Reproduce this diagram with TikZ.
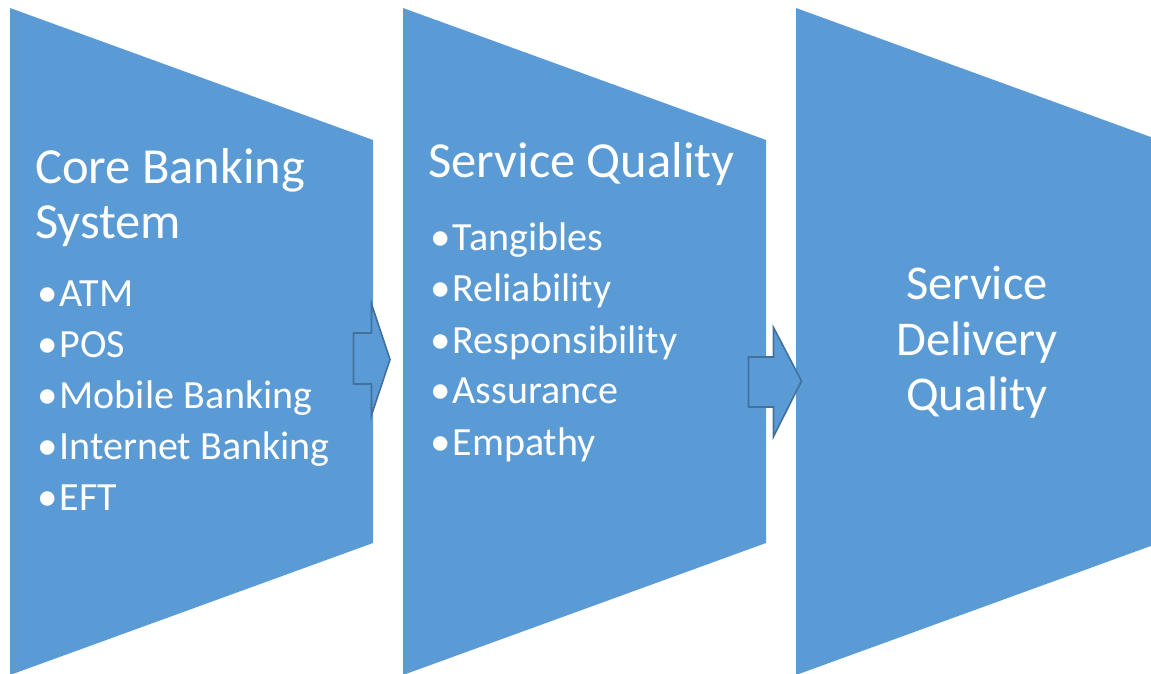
\documentclass[tikz,border=0pt]{standalone}
\usepackage{fontspec}
\setmainfont{Carlito}
\definecolor{stageblue}{HTML}{5B9BD5}
\definecolor{arrowedge}{HTML}{41719C}
\newcommand{\bulletmark}{\makebox[23.5pt][l]{\hspace{1pt}\fontsize{41}{41}\selectfont\raisebox{-0.5pt}{•}}}
\begin{document}
\begin{tikzpicture}[x=1pt,y=-1pt,
  stage/.style={fill=stageblue,draw=none},
  blockarrow/.style={fill=stageblue,draw=arrowedge,line width=1.6pt,line join=miter},
  heading/.style={text=white,inner sep=0pt,font=\fontsize{50.5}{55}\selectfont},
  item/.style={text=white,inner sep=0pt,anchor=base west,font=\fontsize{40}{51}\selectfont},
]
\useasboundingbox (0,0) rectangle (1151,674);
\begin{scope}
\clip (0,0) rectangle (1151,674);
% three funnel stages
\fill[stage] (10,8) -- (373,140) -- (373,543) -- (10,675) -- cycle;
\fill[stage] (403,8) -- (766,140) -- (766,543) -- (403,675) -- cycle;
\fill[stage] (796,8) -- (1159,140) -- (1159,543) -- (796,675) -- cycle;
% block arrows between stages
\draw[blockarrow] (353.5,333) -- (371.5,333) -- (371.5,304) -- (390,359.5)
  -- (371.5,415) -- (371.5,384) -- (353.5,384) -- cycle;
\draw[blockarrow] (748.5,357) -- (773.5,357) -- (773.5,327.5) -- (801.5,381)
  -- (773.5,436.5) -- (773.5,407) -- (748.5,407) -- cycle;
\end{scope}

% stage 1
\node[heading,anchor=base west] (h1a) at (35,183) {Core Banking};
\node[heading,anchor=base west] (h1b) at (35,238) {System};
\node[item] (c1) at (36,306) {\bulletmark ATM};
\node[item] (c2) at (36,357) {\bulletmark POS};
\node[item] (c3) at (36,408) {\bulletmark Mobile Banking};
\node[item] (c4) at (36,459) {\bulletmark Internet Banking};
\node[item] (c5) at (36,510) {\bulletmark EFT};

% stage 2
\node[heading,anchor=base west] (h2) at (428,178) {Service Quality};
\node[item] (s1) at (429,250) {\bulletmark Tangibles};
\node[item] (s2) at (429,301) {\bulletmark Reliability};
\node[item] (s3) at (429,353) {\bulletmark Responsibility};
\node[item] (s4) at (429,403) {\bulletmark Assurance};
\node[item] (s5) at (429,455) {\bulletmark Empathy};

% stage 3
\node[heading,anchor=base,font=\fontsize{48.5}{56}\selectfont] (d1) at (977,299) {Service};
\node[heading,anchor=base,font=\fontsize{48.5}{56}\selectfont] (d2) at (977,355) {Delivery};
\node[heading,anchor=base,font=\fontsize{48.5}{56}\selectfont] (d3) at (977,410) {Quality};
\end{tikzpicture}
\end{document}
